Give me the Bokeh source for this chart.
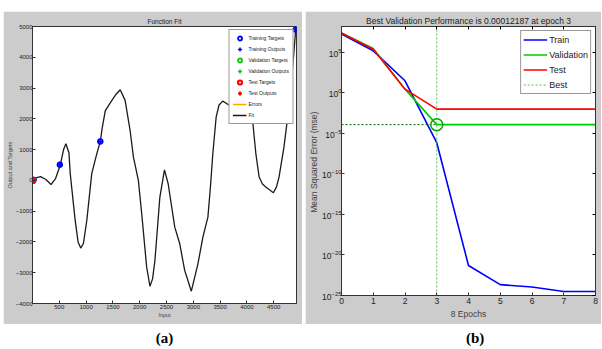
from bokeh.plotting import figure
from bokeh.models import (Range1d, FixedTicker, LinearAxis, LogAxis, Legend, LegendItem, Label,
                          Spacer, CustomJSTickFormatter)
from bokeh.layouts import row, column
from bokeh.embed import file_html
from bokeh.resources import INLINE

GREY = "#cccccc"
SANS = "Liberation Sans"

# ---------------- panel (a) data: Function Fit ----------------
fit_x = [0, 60, 150, 250, 345, 430, 520, 580, 623, 680, 704, 796, 850, 900, 950, 1013,
         1105, 1200, 1265, 1300, 1358, 1481, 1560, 1636, 1728, 1821, 1883, 1975, 2037,
         2130, 2191, 2240, 2284, 2376, 2462, 2531, 2600, 2654, 2747, 2839, 2963, 3086,
         3179, 3272, 3320, 3364, 3426, 3480, 3549, 3620, 3704, 3800, 3950, 4050, 4110,
         4167, 4228, 4290, 4352, 4494, 4550, 4599, 4691, 4753, 4820, 4877, 4910]
fit_y = [0, 80, 120, 30, -135, 60, 510, 1000, 1190, 900, 220, -1300, -2000, -2200, -2050, -1300,
         220, 870, 1265, 1700, 2270, 2600, 2800, 2945, 2600, 1620, 755, 0, -1075,
         -2820, -3440, -3200, -2600, -545, 340, -110, -900, -1520, -2060, -2925, -3600, -2710,
         -1845, -1195, -200, 865, 2055, 2450, 2575, 2500, 2400, 2450, 2350, 2200, 1880,
         865, 107, -120, -218, -400, -220, 107, 1080, 1950, 3000, 4165, 4900]
train_x = [20, 510, 1265, 4910]
train_y = [20, 510, 1265, 4900]
val_x, val_y = [10], [0]
test_x, test_y = [5], [0]
xa_ticks = [500, 1000, 1500, 2000, 2500, 3000, 3500, 4000, 4500]
ya_ticks = [-4000, -3000, -2000, -1000, 0, 1000, 2000, 3000, 4000, 5000]

# ---------------- panel (b) data: performance ----------------
epochs = [0, 1, 2, 3, 4, 5, 6, 7, 8]
train_perf = [10**7.28, 10**5.2, 10**1.5, 10**-6.14, 10**-21.3, 10**-23.66, 10**-23.96, 10**-24.5, 10**-24.5]
val_perf = [10**7.4, 10**5.5, 10**0.47, 1.2187e-4, 1.2187e-4, 1.2187e-4, 1.2187e-4, 1.2187e-4, 1.2187e-4]
test_perf = [10**7.4, 10**5.4, 10**0.47, 10**-2.0, 10**-2.0, 10**-2.0, 10**-2.0, 10**-2.0, 10**-2.0]
best_epoch = 3
best_perf = 0.00012187
yb_lo, yb_hi = 1e-25, 10**8.2
yb_ticks = [10.0**k for k in range(-25, 6, 5)]

BLANK = CustomJSTickFormatter(code="return '';")


def style_axis(ax, size, standoff=2):
    ax.major_tick_in = 3
    ax.major_tick_out = 0
    ax.minor_tick_in = 0
    ax.minor_tick_out = 0
    ax.axis_line_color = "#333333"
    ax.major_tick_line_color = "#333333"
    ax.major_label_text_font_size = size
    ax.major_label_text_font = SANS
    ax.major_label_text_color = "#222222"
    ax.major_label_standoff = standoff


# ---------------- figure (a) ----------------
pa = figure(width=299, height=313, x_range=Range1d(0, 4925), y_range=Range1d(-4000, 5000),
            output_backend="svg", toolbar_location=None, title="Function Fit",
            min_border_left=23, min_border_right=6, min_border_top=15, min_border_bottom=21,
            border_fill_color=GREY, background_fill_color="white", outline_line_color="#333333")
pa.title.align = "center"
pa.title.text_font_size = "6.5px"
pa.title.text_font = SANS
pa.title.text_font_style = "normal"
pa.title.text_color = "#222222"
pa.title.standoff = 3
pa.grid.visible = False
pa.xaxis.ticker = FixedTicker(ticks=xa_ticks)
pa.yaxis.ticker = FixedTicker(ticks=ya_ticks)
for ax in pa.xaxis + pa.yaxis:
    style_axis(ax, "6px", 0)
    ax.axis_label_text_font_size = "5.5px"
    ax.axis_label_text_font = SANS
    ax.axis_label_text_font_style = "normal"
    ax.axis_label_standoff = 0
pa.xaxis.major_label_standoff = 1
pa.xaxis.axis_label = "Input"
pa.yaxis.axis_label = "Output and Targets"

# errors = targets - outputs (zero-length segments at the data points)
r_err = pa.segment(x0=train_x, y0=train_y, x1=train_x, y1=train_y, line_color="#ffa500", line_width=1.5)
r_fit = pa.line(fit_x, fit_y, line_color="#1a1a1a", line_width=1.3)
r_tt = pa.scatter(train_x, train_y, marker="circle", size=4.5, fill_color=None, line_color="#0000ff", line_width=1.8)
r_to = pa.scatter(train_x, train_y, marker="cross", size=6, line_color="#0000ff", line_width=1.5)
r_vt = pa.scatter(val_x, val_y, marker="circle", size=4.5, fill_color=None, line_color="#00cc00", line_width=1.8)
r_vo = pa.scatter(val_x, val_y, marker="cross", size=6, line_color="#00cc00", line_width=1.5)
r_st = pa.scatter(test_x, test_y, marker="circle", size=5, fill_color=None, line_color="#ff0000", line_width=2.2)
r_so = pa.scatter(test_x, test_y, marker="cross", size=6, line_color="#ff0000", line_width=2)

leg_a = Legend(items=[
    LegendItem(label="Training Targets", renderers=[r_tt]),
    LegendItem(label="Training Outputs", renderers=[r_to]),
    LegendItem(label="Validation Targets", renderers=[r_vt]),
    LegendItem(label="Validation Outputs", renderers=[r_vo]),
    LegendItem(label="Test Targets", renderers=[r_st]),
    LegendItem(label="Test Outputs", renderers=[r_so]),
    LegendItem(label="Errors", renderers=[r_err]),
    LegendItem(label="Fit", renderers=[r_fit]),
], location="top_right", margin=3, padding=3, spacing=1, glyph_width=14, glyph_height=10,
    label_height=10, label_standoff=2, label_text_font_size="5px", label_text_font=SANS,
    label_text_color="#222222", border_line_color="#333333", border_line_width=1,
    background_fill_color="white", background_fill_alpha=1.0)
pa.add_layout(leg_a)

# ---------------- figure (b) ----------------
pb = figure(width=296, height=313, x_range=Range1d(0, 8), y_range=Range1d(yb_lo, yb_hi),
            y_axis_type="log", output_backend="svg", toolbar_location=None,
            title="Best Validation Performance is 0.00012187 at epoch 3",
            min_border_left=32, min_border_right=6, min_border_top=15, min_border_bottom=29,
            border_fill_color=GREY, background_fill_color="white", outline_line_color="#333333")
pb.title.align = "center"
pb.title.text_font_size = "8.5px"
pb.title.text_font = SANS
pb.title.text_font_style = "normal"
pb.title.text_color = "#222222"
pb.title.standoff = 2
pb.grid.visible = False
pb.xaxis.ticker = FixedTicker(ticks=epochs)
pb.yaxis.ticker = FixedTicker(ticks=yb_ticks)
for ax in pb.xaxis + pb.yaxis:
    style_axis(ax, "8.5px", 2)
pb.yaxis.major_label_standoff = 0
pb.xaxis.axis_label = "8 Epochs"
pb.xaxis.axis_label_text_font_size = "8.5px"
pb.xaxis.axis_label_text_font = SANS
pb.xaxis.axis_label_text_font_style = "normal"
pb.xaxis.axis_label_standoff = 2
pb.yaxis.axis_label = "Mean Squared Error  (mse)"
pb.yaxis.axis_label_text_font_size = "8.5px"
pb.yaxis.axis_label_text_font = SANS
pb.yaxis.axis_label_text_font_style = "normal"
pb.yaxis.axis_label_standoff = 0

top_ax = LinearAxis(ticker=FixedTicker(ticks=epochs), formatter=BLANK, major_label_standoff=0)
right_ax = LogAxis(ticker=FixedTicker(ticks=yb_ticks), formatter=BLANK, major_label_standoff=0)
for ax in (top_ax, right_ax):
    ax.major_tick_in = 3
    ax.major_tick_out = 0
    ax.minor_tick_in = 0
    ax.minor_tick_out = 0
    ax.axis_line_color = "#333333"
    ax.major_label_text_font_size = "1px"
pb.add_layout(top_ax, "above")
pb.add_layout(right_ax, "right")

r_tr = pb.line(epochs, train_perf, line_color="#0000ff", line_width=1.6)
r_va = pb.line(epochs, val_perf, line_color="#00cc00", line_width=1.6)
r_te = pb.line(epochs, test_perf, line_color="#ff0000", line_width=1.6)
r_bv = pb.line([best_epoch, best_epoch], [yb_lo, yb_hi], line_color="#55bb55", line_width=1, line_dash="2 2")
pb.line([0, best_epoch], [best_perf, best_perf], line_color="#006400", line_width=1, line_dash="2 2")
pb.scatter([best_epoch], [best_perf], marker="circle", size=12, fill_color=None, line_color="#00aa00", line_width=1.5)

leg_b = Legend(items=[
    LegendItem(label="Train", renderers=[r_tr]),
    LegendItem(label="Validation", renderers=[r_va]),
    LegendItem(label="Test", renderers=[r_te]),
    LegendItem(label="Best", renderers=[r_bv]),
], location="top_right", margin=4, padding=2, spacing=2, glyph_width=24, glyph_height=13,
    label_height=13, label_standoff=2, label_text_font_size="9px", label_text_font=SANS,
    label_text_color="#222222", border_line_color="#333333", border_line_width=1,
    background_fill_color="white", background_fill_alpha=1.0)
pb.add_layout(leg_b)


def label_fig(w, txt, frac):
    f = figure(width=w, height=24, x_range=Range1d(0, 1), y_range=Range1d(0, 1),
               output_backend="svg", toolbar_location=None, title=None,
               x_axis_location=None, y_axis_location=None, min_border=0,
               outline_line_color=None, border_fill_color="white", background_fill_color="white")
    f.grid.visible = False
    f.add_layout(Label(x=frac, y=0.42, text=txt, text_align="center",
                       text_baseline="middle", text_font_size="15px", text_font_style="bold",
                       text_font="Liberation Serif", text_color="#000000"))
    return f


lab_a = label_fig(299, "(a)", 0.50)
lab_b = label_fig(296, "(b)", 0.526)

layout = column(Spacer(height=11),
                row(Spacer(width=3), column(pa, lab_a), Spacer(width=3), column(pb, lab_b)))

open("out.html", "w").write(file_html(layout, INLINE))
